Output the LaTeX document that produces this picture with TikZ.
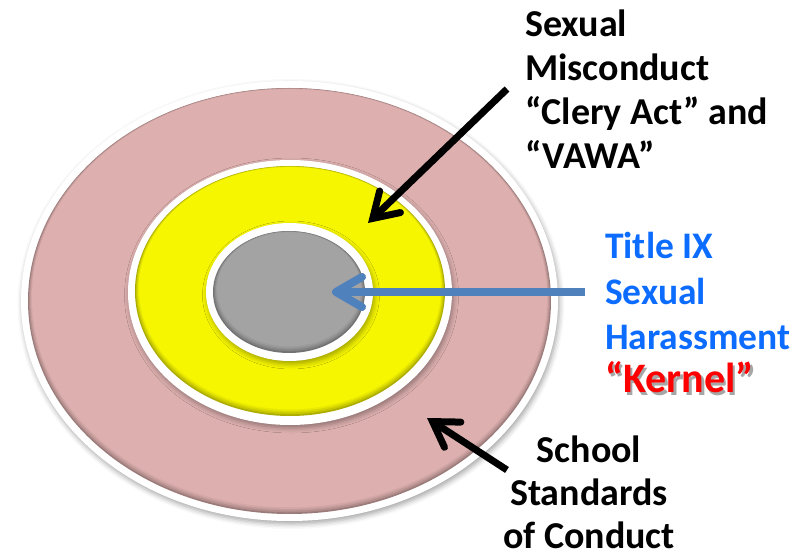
\documentclass[tikz,border=0pt]{standalone}
\usepackage{fontspec}
\setmainfont{Carlito}
\usetikzlibrary{arrows.meta,shadows.blur,calc}

\definecolor{ringpink}{RGB}{221,176,175}
\definecolor{ringyellow}{RGB}{246,246,0}
\definecolor{kernelgray}{RGB}{163,163,163}
\definecolor{pointerblue}{RGB}{79,129,189}
\definecolor{titleblue}{RGB}{12,108,255}
\definecolor{kernelred}{RGB}{255,0,0}

% a coloured disc with a slightly darker, bevelled lower rim
\newcommand\beveldisc[4]{%
  \foreach \k/\m in {0/70,1/80,2/88,3/95,4/100}{%
    \fill[#4!\m!black] ($(#1)+(0,-0.7*\k)$) ellipse [x radius={#2-\k}, y radius={#3-\k}];
  }}

\tikzset{
  whiterim/.style={fill=white, blur shadow={shadow xshift=1.5pt, shadow yshift=-3pt,
      shadow blur radius=5pt, shadow opacity=35}},
  txtblock/.style={inner sep=0pt, align=left},
  blackpointer/.style={draw=black, line width=7pt,
      -{Straight Barb[length=24pt, width=30pt, line cap=round, line join=miter]}},
  bluepointer/.style={draw=pointerblue, line width=8pt,
      -{Straight Barb[length=26pt, width=30pt, round]}},
}

\begin{document}
\begin{tikzpicture}[x=1pt,y=-1pt]
\useasboundingbox (0,0) rectangle (804,553);

% centres of the three rings
\coordinate (outerC) at (289.5,301);
\coordinate (middleC) at (290,292.5);
\coordinate (innerC) at (289.5,292);

% outer ring: school standards
\fill[whiterim] (outerC) ellipse [x radius=268.5, y radius=220];
\beveldisc{outerC}{261.5}{213}{ringpink}

% middle ring: sexual misconduct
\fill[whiterim] (middleC) ellipse [x radius=162, y radius=132.5];
\beveldisc{290,291}{155}{125}{ringyellow}

% kernel: title IX
\fill[whiterim] (innerC) ellipse [x radius=83.5, y radius=69];
\beveldisc{289,292}{76}{61}{kernelgray}

% labels
\node[txtblock, anchor=north west, font=\bfseries\fontsize{38}{44}\selectfont]
  (misconduct) at (525,10) {Sexual\\Misconduct\\“Clery Act” and\\“VAWA”};
\node[txtblock, anchor=north west, text=titleblue, font=\bfseries\fontsize{37.5}{45.5}\selectfont]
  (titleix) at (605,232) {Title IX\\Sexual\\Harassment};
\node[txtblock, anchor=base west, text=black, opacity=0.35, font=\bfseries\fontsize{42}{46}\selectfont]
  (kernelshade) at (607.5,395.5) {“Kernel”};
\node[txtblock, anchor=base west, text=kernelred, font=\bfseries\fontsize{42}{46}\selectfont]
  (kernel) at (605,393) {“Kernel”};
\node[inner sep=0pt, align=center, anchor=north, font=\bfseries\fontsize{38}{43}\selectfont]
  (school) at (589,436) {School\\Standards\\of Conduct};

% pointers
\coordinate (mTail) at (507,89);
\coordinate (mTip) at (368,223);
\coordinate (tTail) at (585,292);
\coordinate (tTip) at (332,292);
\coordinate (sTail) at (507,470);
\coordinate (sTip) at (427,418);

\draw[blackpointer] (mTail) -- (mTip);
\draw[bluepointer] (tTail) -- (tTip);
\draw[blackpointer] (sTail) -- (sTip);
\end{tikzpicture}
\end{document}
